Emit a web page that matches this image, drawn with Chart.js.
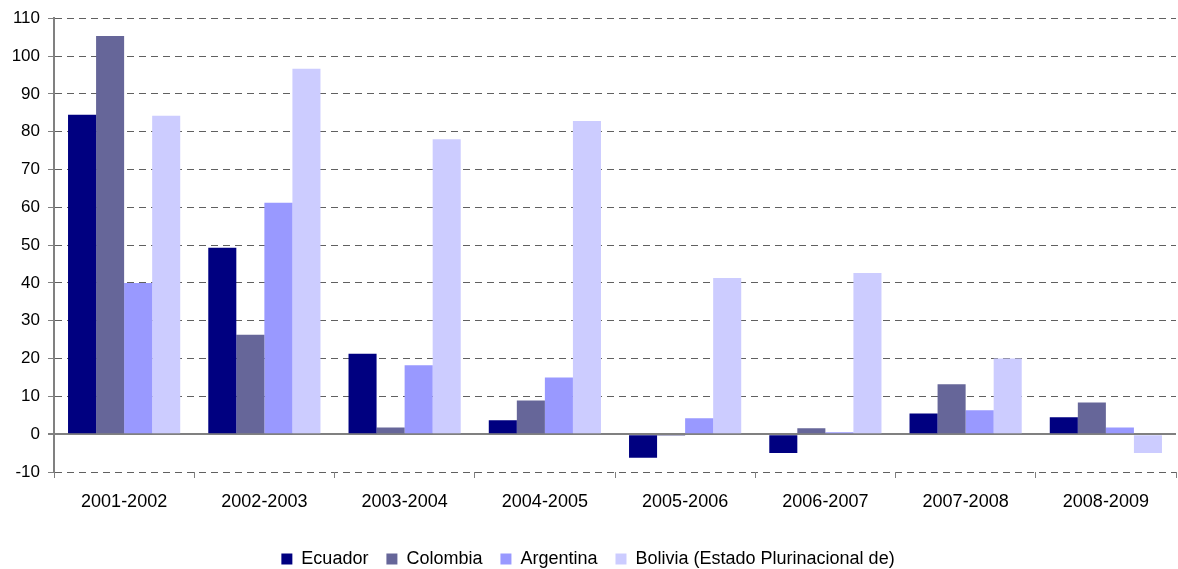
<!DOCTYPE html>
<html>
<head>
<meta charset="utf-8">
<script src="https://cdn.jsdelivr.net/npm/chart.js@4.4.1/dist/chart.umd.min.js"></script>
<style>
  html, body { margin: 0; padding: 0; background: #fff; }
  #wrap { width: 1178px; height: 569px; position: relative; }
</style>
</head>
<body>
<div id="wrap"><canvas id="chart-variacion"></canvas></div>
<script>
// Variación por período y país
const periodos = ['2001-2002', '2002-2003', '2003-2004', '2004-2005', '2005-2006', '2006-2007', '2007-2008', '2008-2009'];
const ecuador   = [84.5, 49.3, 21.3, 3.7, -6.2, -5.0, 5.5, 4.5];
const colombia  = [105.3, 26.3, 1.8, 8.9, -0.4, 1.6, 13.2, 8.4];
const argentina = [40.0, 61.2, 18.2, 15.0, 4.2, 0.5, 6.3, 1.8];
const bolivia   = [84.2, 96.6, 78.0, 82.8, 41.3, 42.6, 20.0, -5.0];
const ticksY    = [-10, 0, 10, 20, 30, 40, 50, 60, 70, 80, 90, 100, 110];

const familia = '"Liberation Sans", Arial, sans-serif';

const grafico = {
    chart: null,

    init() {
        const ctx = document.getElementById('chart-variacion').getContext('2d');
        const serie = (label, data, color) => ({
            label, data, backgroundColor: color, borderWidth: 0,
            categoryPercentage: 0.8, barPercentage: 1.0
        });
        this.chart = new Chart(ctx, {
            type: 'bar',
            data: {
                labels: periodos,
                datasets: [
                    serie('Ecuador', ecuador, '#000080'),
                    serie('Colombia', colombia, '#666699'),
                    serie('Argentina', argentina, '#9999ff'),
                    serie('Bolivia (Estado Plurinacional de)', bolivia, '#ccccff')
                ]
            },
            options: {
                responsive: true,
                maintainAspectRatio: false,
                animation: false,
                // bottom negativo: baja la leyenda hacia el borde
                layout: { padding: { top: 5, right: 2, left: 0, bottom: -9 } },
                scales: {
                    y: {
                        min: ticksY[0],
                        max: ticksY[ticksY.length - 1],
                        afterBuildTicks: (s) => { s.ticks = ticksY.map(v => ({ value: v })); },
                        afterFit: (s) => { s.width = 54; },
                        grid: {
                            color: (c) => c.tick && c.tick.value === 0 ? '#808080' : '#606060',
                            lineWidth: (c) => c.tick && c.tick.value === 0 ? 2 : 1,
                            tickColor: '#808080',
                            tickLength: 6,
                            tickBorderDash: []
                        },
                        border: {
                            color: '#808080', width: 2,
                            // línea del cero continua, el resto punteadas
                            dash: (c) => c.tick && c.tick.value === 0 ? [] : [7, 5]
                        },
                        ticks: { color: '#000', font: { family: familia, size: 17 }, padding: 8 }
                    },
                    x: {
                        afterFit: (s) => { s.height = 60; },
                        grid: {
                            drawOnChartArea: false,
                            drawTicks: true,
                            tickLength: 6,
                            color: '#808080',
                            tickColor: '#808080'
                        },
                        border: { display: false },
                        ticks: { color: '#000', font: { family: familia, size: 18 }, padding: 13 }
                    }
                },
                plugins: {
                    legend: {
                        position: 'bottom',
                        labels: {
                            color: '#000', font: { family: familia, size: 18 },
                            boxWidth: 11, boxHeight: 11, padding: 18
                        }
                    },
                    tooltip: { enabled: false }
                }
            }
        });
    }
};

window.addEventListener('load', () => {
    grafico.init();
});
</script>
</body>
</html>
